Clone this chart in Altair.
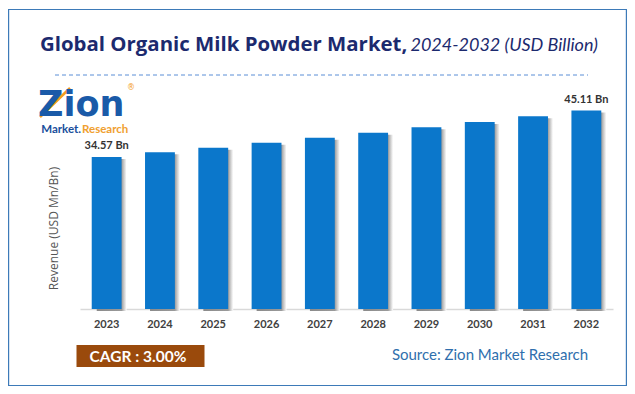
import altair as alt
import pandas as pd

years = ["2023", "2024", "2025", "2026", "2027", "2028", "2029", "2030", "2031", "2032"]
revenue = [34.57, 35.61, 36.67, 37.77, 38.91, 40.07, 41.28, 42.51, 43.79, 45.11]
labelled_years = ["2023", "2032"]
title_main = "Global Organic Milk Powder Market,"
title_sub = "2024-2032 (USD Billion)"
y_title = "Revenue (USD Mn/Bn)"
cagr_text = "CAGR : 3.00%"
source_text = "Source: Zion Market Research"

df = pd.DataFrame({"year": years, "value": revenue})
one = pd.DataFrame({"a": [0]})

# plot-area origin on page: (80, 89)
OX, OY = 80, 89
def px(v):
    return alt.value(v - OX)
def py(v):
    return alt.value(v - OY)

xenc = alt.X("year:N", sort=years,
             scale=alt.Scale(paddingInner=0.44, paddingOuter=0.22),
             axis=alt.Axis(title=None, labelAngle=0, ticks=False, labelPadding=9,
                           labelFont="Lato", labelFontWeight="bold", labelFontSize=11,
                           labelColor="#404040", domainColor="#d9d9d9", domainWidth=1.5,
                           grid=False))
yenc = alt.Y("value:Q", scale=alt.Scale(domain=[0, 50], nice=False),
             axis=alt.Axis(title=y_title, labels=False, ticks=False, domain=False, grid=False,
                           titleFont="Open Sans", titleFontWeight="normal", titleFontSize=12,
                           titleColor="#555555", titleAngle=270, titleAlign="center",
                           titleBaseline="middle", titleX=-27, titleY=139))

base = alt.Chart(df)

shadow = base.mark_bar(
    xOffset=5, yOffset=2,
    color=alt.LinearGradient(gradient="linear", x1=0, x2=1, y1=0, y2=0,
                             stops=[alt.GradientStop(color="#8a8a8a", offset=0),
                                    alt.GradientStop(color="#9a9a9a", offset=0.83),
                                    alt.GradientStop(color="#ffffff", offset=1)])
).encode(x=xenc, y=yenc)

bars = base.mark_bar(color="#0b77cb").encode(x=xenc, y=yenc)

labels = base.transform_filter(
    alt.FieldOneOfPredicate(field="year", oneOf=labelled_years)
).transform_calculate(
    lab="format(datum.value, '.2f') + ' Bn'"
).mark_text(baseline="bottom", dy=-6, font="Lato", fontWeight="bold", fontSize=11,
            color="#333333").encode(x=alt.X("year:N", sort=years), y="value:Q", text="lab:N")

o = alt.Chart(one)

frame = o.mark_rect(fill=None, stroke="#3d7ab8", strokeWidth=1.2).encode(
    x=px(8.6), x2=px(626.4), y=py(9.5), y2=py(385.5))

t_main = o.mark_text(align="left", baseline="middle", font="Open Sans", fontWeight="bold",
                     fontSize=20.4, color="#1c2a6e").encode(x=px(40), y=py(45), text=alt.value(title_main))
t_sub = o.mark_text(align="right", baseline="middle", font="Lato", fontStyle="italic",
                    fontSize=18, color="#1c2a6e").encode(x=px(598), y=py(46), text=alt.value(title_sub))

dash = o.mark_rule(color="#5b8ed6", strokeDash=[4, 3], strokeWidth=1).encode(
    x=px(55), x2=px(588), y=py(75))

# logo
logo_arrow = o.mark_rule(color="#f39c1f", strokeWidth=2.5).encode(
    x=px(40), x2=px(70), y=py(117), y2=py(88))
logo_zion = o.mark_text(align="left", baseline="alphabetic", font="DejaVu Sans",
                        fontWeight="bold", fontSize=35, color="#1a5aa8").encode(
    x=px(38), y=py(116), text=alt.value("Zion"))
logo_reg = o.mark_text(align="center", baseline="middle", font="DejaVu Sans",
                       fontSize=8, color="#f39c1f").encode(x=px(131), y=py(88), text=alt.value("®"))
logo_m = o.mark_text(align="right", baseline="middle", font="Lato", fontWeight="bold",
                     fontSize=11.5, color="#1a4f9c").encode(x=px(81), y=py(130), text=alt.value("Market."))
logo_r = o.mark_text(align="left", baseline="middle", font="Lato", fontWeight="bold",
                     fontSize=11.5, color="#f0a030").encode(x=px(82), y=py(130), text=alt.value("Research"))

cagr_box = o.mark_rect(fill="#9a4a0c").encode(x=px(76.5), x2=px(204.5), y=py(345), y2=py(367))
cagr = o.mark_text(align="center", baseline="middle", font="Lato", fontWeight="bold",
                   fontSize=15.5, color="#ffffff").encode(x=px(138), y=py(356.5), text=alt.value(cagr_text))
source = o.mark_text(align="center", baseline="middle", font="Lato", fontSize=15,
                     color="#2f6fad").encode(x=px(490), y=py(355), text=alt.value(source_text))

chart = alt.layer(
    frame, shadow, bars, labels, t_main, t_sub, dash,
    logo_arrow, logo_zion, logo_reg, logo_m, logo_r, cagr_box, cagr, source
).properties(
    width=533, height=220,
    autosize=alt.AutoSizeParams(type="none"),
    padding={"left": 72, "top": 81, "right": 14, "bottom": 77},
    background="#ffffff"
).configure_view(stroke=None)

chart.save("out.html", embed_options={"renderer": "svg", "actions": False})
